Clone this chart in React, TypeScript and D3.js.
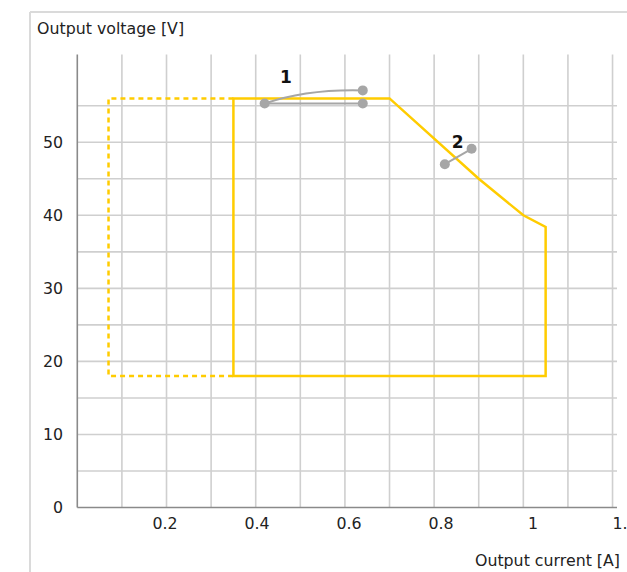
import React from "react";
import * as d3 from "d3";

const W = 627;
const H = 572;

// Operating envelope (Output current [A], Output voltage [V])
const solidEnvelope: [number, number][] = [
  [0.35, 18],
  [0.35, 56],
  [0.7, 56],
  [0.9, 45],
  [1.0, 40],
  [1.05, 38.4],
  [1.05, 18],
];
const dashedEnvelope: [number, number][] = [
  [0.35, 56],
  [0.07, 56],
  [0.07, 18],
  [0.35, 18],
];

// Annotation 1: start, curved end, straight end, curve control
const anno1Start: [number, number] = [0.42, 55.3];
const anno1CurveEnd: [number, number] = [0.64, 57.1];
const anno1CurveCtrl: [number, number] = [0.515, 57.3];
const anno1LineEnd: [number, number] = [0.64, 55.3];
const anno1Label: [number, number] = [0.468, 59.0];

// Annotation 2
const anno2Points: [number, number][] = [
  [0.824, 47.0],
  [0.884, 49.1],
];
const anno2Label: [number, number] = [0.853, 50.0];

const xGridValues = [0.1, 0.2, 0.3, 0.4, 0.5, 0.6, 0.7, 0.8, 0.9, 1.0, 1.1, 1.2];
const yGridValues = [5, 10, 15, 20, 25, 30, 35, 40, 45, 50, 55];
const xTickValues = [0.2, 0.4, 0.6, 0.8, 1.0, 1.2];
const xTickLabels = ["0.2", "0.4", "0.6", "0.8", "1", "1.2"];
const yTickValues = [0, 10, 20, 30, 40, 50];

const FONT = "'DejaVu Sans', sans-serif";
const FS = 15.8;

export default function App() {
  const x = d3.scaleLinear().domain([0, 1.21]).range([77.3, 617]);
  const y = d3.scaleLinear().domain([0, 62]).range([507.5, 54.6]);
  // tick labels in the original sit on a slightly wider spacing than the grid
  const xl = d3.scaleLinear().domain([0, 1.2]).range([73, 625]);

  const line = d3
    .line<[number, number]>()
    .x((d) => x(d[0]))
    .y((d) => y(d[1]));

  const yellow = "#ffcc00";
  const grid = "#cfcfcf";
  const axis = "#8a8a8a";
  const gray = "#a6a6a6";

  const p0 = [x(anno1Start[0]), y(anno1Start[1])];
  const pc = [x(anno1CurveCtrl[0]), y(anno1CurveCtrl[1])];
  const p2 = [x(anno1CurveEnd[0]), y(anno1CurveEnd[1])];
  const curvePath = `M${p0[0]},${p0[1]}Q${pc[0]},${pc[1]} ${p2[0]},${p2[1]}`;

  const dots: [number, number][] = [anno1Start, anno1CurveEnd, anno1LineEnd, ...anno2Points];

  return (
    <svg
      width={W}
      height={H}
      style={{ position: "absolute", left: 0, top: 0, background: "#fff" }}
      fontFamily={FONT}
    >
      <rect x={0} y={0} width={W} height={H} fill="#fff" />
      {/* frame */}
      <line x1={30} y1={12} x2={W} y2={12} stroke="#dadada" strokeWidth={2} />
      <line x1={30} y1={12} x2={30} y2={H} stroke="#dadada" strokeWidth={2} />

      <text x={37} y={34} fontSize={FS} fill="#222">
        Output voltage [V]
      </text>
      <text x={620} y={566} fontSize={FS} fill="#222" textAnchor="end">
        Output current [A]
      </text>

      {/* grid */}
      {xGridValues.map((v) => (
        <line key={"gx" + v} x1={x(v)} x2={x(v)} y1={y(62)} y2={y(0)} stroke={grid} strokeWidth={1.6} />
      ))}
      {yGridValues.map((v) => (
        <line key={"gy" + v} x1={x(0)} x2={x(1.21)} y1={y(v)} y2={y(v)} stroke={grid} strokeWidth={1.6} />
      ))}
      {/* axes */}
      <line x1={x(0)} x2={x(0)} y1={y(62)} y2={y(0)} stroke={axis} strokeWidth={1.6} />
      <line x1={x(0)} x2={x(1.21)} y1={y(0)} y2={y(0)} stroke={axis} strokeWidth={1.6} />

      {/* tick labels */}
      {yTickValues.map((v) => (
        <text key={"ty" + v} x={63} y={y(v)} dy="0.36em" fontSize={FS} fill="#222" textAnchor="end">
          {v}
        </text>
      ))}
      {xTickValues.map((v, i) => (
        <text key={"tx" + v} x={xl(v)} y={529} fontSize={FS} fill="#222" textAnchor="middle">
          {xTickLabels[i]}
        </text>
      ))}

      {/* envelopes */}
      <path d={line(dashedEnvelope) || ""} fill="none" stroke={yellow} strokeWidth={2.5} strokeDasharray="5,4" />
      <path d={(line(solidEnvelope) || "") + "Z"} fill="none" stroke={yellow} strokeWidth={2.5} strokeLinejoin="miter" />

      {/* annotations */}
      <path d={curvePath} fill="none" stroke={gray} strokeWidth={2} />
      <path d={line([anno1Start, anno1LineEnd]) || ""} fill="none" stroke={gray} strokeWidth={2} />
      <path d={line(anno2Points) || ""} fill="none" stroke={gray} strokeWidth={2} />
      {dots.map((d, i) => (
        <circle key={"dot" + i} cx={x(d[0])} cy={y(d[1])} r={5} fill={gray} />
      ))}
      <text x={x(anno1Label[0])} y={y(anno1Label[1])} dy="0.36em" fontSize={17} fontWeight="bold" textAnchor="middle" fill="#111">
        1
      </text>
      <text x={x(anno2Label[0])} y={y(anno2Label[1])} dy="0.36em" fontSize={17} fontWeight="bold" textAnchor="middle" fill="#111">
        2
      </text>
    </svg>
  );
}
